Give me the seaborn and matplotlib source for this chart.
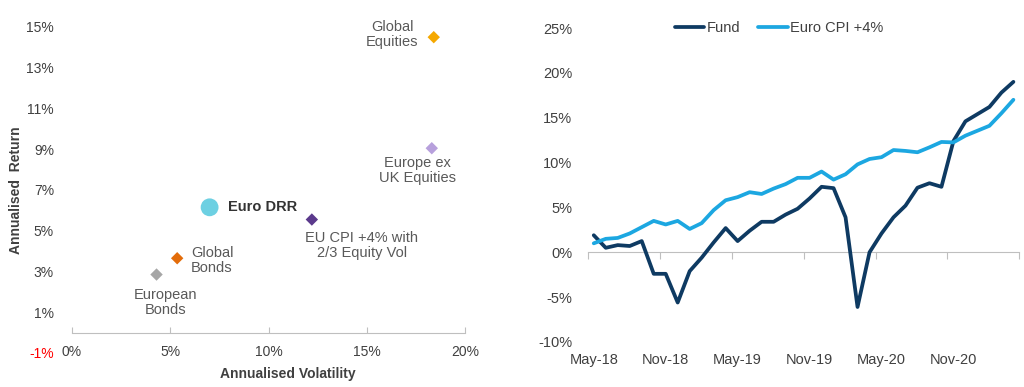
import numpy as np
import pandas as pd
import matplotlib.pyplot as plt
import seaborn as sns

# left panel - annualised risk / return
names = ['Global Equities', 'Europe ex UK Equities', 'EU CPI +4% with 2/3 Equity Vol',
         'Global Bonds', 'European Bonds']
point_labels = ['Global\nEquities', 'Europe ex\nUK Equities', 'EU CPI +4% with\n2/3 Equity Vol',
                'Global\nBonds', 'European\nBonds']
vol = [18.4, 18.3, 12.2, 5.35, 4.3]
ret = [14.5, 9.05, 5.55, 3.65, 2.85]
drr_name = 'Euro DRR'
drr_vol = [7.0]
drr_ret = [6.15]

# right panel - cumulative performance (%), monthly May-18 .. Apr-21
fund = [1.9, 0.5, 0.8, 0.7, 1.25, -2.4, -2.4, -5.6, -2.1, -0.6,
        1.1, 2.7, 1.25, 2.4, 3.4, 3.4, 4.2, 4.85, 6.0, 7.3,
        7.15, 3.9, -6.1, 0.0, 2.1, 3.9, 5.2, 7.2, 7.7, 7.3,
        12.4, 14.6, 15.4, 16.2, 17.8, 19.0]
cpi = [1.0, 1.5, 1.6, 2.1, 2.8, 3.5, 3.1, 3.5, 2.6, 3.25,
       4.7, 5.8, 6.15, 6.7, 6.5, 7.1, 7.6, 8.3, 8.3, 9.0,
       8.1, 8.7, 9.8, 10.4, 10.6, 11.4, 11.3, 11.15, 11.7, 12.3,
       12.25, 13.0, 13.55, 14.1, 15.5, 17.0]
month_labels = ['May-18', 'Nov-18', 'May-19', 'Nov-19', 'May-20', 'Nov-20']

# styling
point_colors = ['#F5A800', '#B7A0DC', '#5B3A8C', '#E36C0A', '#A6A6A6']
label_offsets = [(-30, 2), (-10, -16), (36, -19), (10, -1.5), (6.5, -20)]
label_ha = ['center', 'center', 'center', 'left', 'center']
txt = '#404040'
axis_grey = '#BFBFBF'

sns.set_style('white')
plt.rcParams['font.family'] = ['Liberation Sans', 'DejaVu Sans']

fig = plt.figure(figsize=(10.24, 3.87), dpi=100)

# ---------------- left: scatter ----------------
ax1 = fig.add_axes([0.0703, 0.0879, 0.384, 0.895])
df = pd.DataFrame({'name': names, 'vol': vol, 'ret': ret})
sns.scatterplot(data=df, x='vol', y='ret', hue='name', palette=dict(zip(names, point_colors)),
                marker='D', s=40, edgecolor='none', legend=False, ax=ax1)
sns.scatterplot(x=drr_vol, y=drr_ret, color='#6DD0E2', marker='o', s=165,
                edgecolor='none', ax=ax1)

for lab, x, y, off, ha in zip(point_labels, vol, ret, label_offsets, label_ha):
    ax1.annotate(lab, (x, y), xytext=off, textcoords='offset points', ha=ha, va='center',
                 multialignment=ha, fontsize=10.5, color='#595959', linespacing=1.1)
ax1.annotate(drr_name, (drr_vol[0], drr_ret[0]), xytext=(13, 0), textcoords='offset points',
             ha='left', va='center', fontsize=10.5, fontweight='bold', color='#333333')

ax1.set_xlim(0, 20)
ax1.set_ylim(-1, 16)
ax1.set_xticks([0, 5, 10, 15, 20])
ax1.set_xticklabels([f'{v}%' for v in [0, 5, 10, 15, 20]])
ax1.set_yticks(np.arange(-1, 16, 2))
ax1.set_yticklabels([f'{v}%' for v in np.arange(-1, 16, 2)])
ax1.tick_params(axis='x', length=0, pad=-6, labelsize=10, labelcolor=txt)
ax1.tick_params(axis='y', length=0, pad=13, labelsize=10, labelcolor=txt)
ax1.get_yticklabels()[0].set_color('#FF0000')
for sp in ax1.spines.values():
    sp.set_visible(False)
ax1.set_xlabel('Annualised Volatility', fontsize=10, fontweight='bold', color=txt)
ax1.set_ylabel('Annualised  Return', fontsize=10, fontweight='bold', color=txt)
ax1.xaxis.set_label_coords(0.55, -0.04)
ax1.yaxis.set_label_coords(-0.125, 0.47)

# zero line with ticks
sec1 = ax1.secondary_xaxis(1 / 17)
sec1.set_xticks([0, 5, 10, 15, 20])
sec1.set_xticklabels([])
sec1.tick_params(length=4, direction='in', color=axis_grey)
for sp in sec1.spines.values():
    sp.set_color(axis_grey)

# ---------------- right: lines ----------------
ax2 = fig.add_axes([0.574, 0.1163, 0.4215, 0.8113])
months = np.arange(len(fund))
perf = pd.DataFrame({'month': np.concatenate([months, months]),
                     'value': fund + cpi,
                     'series': ['Fund'] * len(fund) + ['Euro CPI +4%'] * len(cpi)})
sns.lineplot(data=perf, x='month', y='value', hue='series',
             palette={'Fund': '#0E3A62', 'Euro CPI +4%': '#1CA7E1'}, linewidth=2.7, ax=ax2)

ax2.set_xlim(-0.5, len(fund) - 0.5)
ax2.set_ylim(-10, 25)
ax2.set_yticks(np.arange(-10, 26, 5))
ax2.set_yticklabels([f'{v}%' for v in np.arange(-10, 26, 5)])
ax2.set_xticks(months[::6])
ax2.set_xticklabels(month_labels)
ax2.tick_params(axis='x', length=0, pad=8, labelsize=10.5, labelcolor=txt)
ax2.tick_params(axis='y', length=0, pad=11, labelsize=10.5, labelcolor=txt)
ax2.set_xlabel('')
ax2.set_ylabel('')
for sp in ax2.spines.values():
    sp.set_visible(False)

sec2 = ax2.secondary_xaxis(10 / 35)
sec2.set_xticks(np.arange(-0.5, len(fund), 6))
sec2.set_xticklabels([])
sec2.tick_params(length=5, direction='out', color=axis_grey)
for sp in sec2.spines.values():
    sp.set_color(axis_grey)

leg = ax2.legend(loc='center', bbox_to_anchor=(0.444, 1.0), ncol=2, frameon=False,
                 fontsize=10.5, handlelength=2.0, handletextpad=0.2, columnspacing=1.2)
for t in leg.get_texts():
    t.set_color(txt)

fig.savefig('out.png', dpi=100)
